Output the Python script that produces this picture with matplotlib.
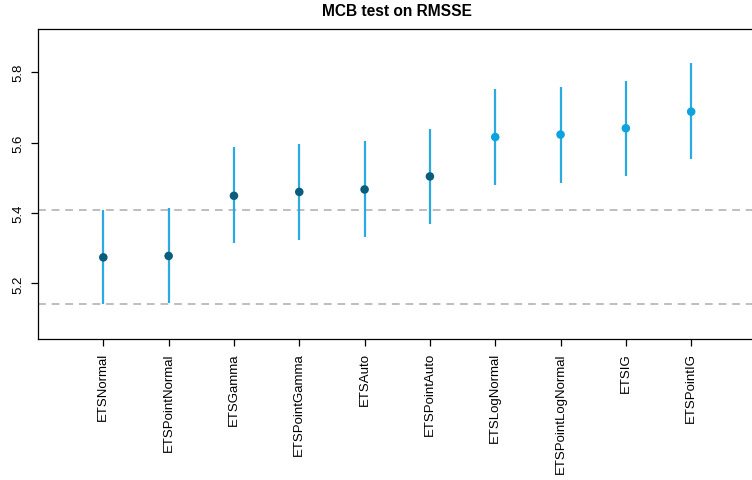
import matplotlib
matplotlib.use("Agg")
import matplotlib.pyplot as plt
import numpy as np

plt.rcParams['font.family'] = ['Liberation Sans', 'DejaVu Sans']

models = ["ETSNormal", "ETSPointNormal", "ETSGamma", "ETSPointGamma", "ETSAuto",
          "ETSPointAuto", "ETSLogNormal", "ETSPointLogNormal", "ETSIG", "ETSPointIG"]
means = [5.274, 5.278, 5.449, 5.460, 5.467, 5.504, 5.616, 5.623, 5.641, 5.688]
lower = [5.141, 5.143, 5.314, 5.324, 5.331, 5.369, 5.480, 5.486, 5.504, 5.553]
upper = [5.409, 5.413, 5.587, 5.596, 5.605, 5.639, 5.752, 5.758, 5.776, 5.825]

dark = "#0b5d7e"
light = "#0ea2de"
line_col = "#29abe2"

fig = plt.figure(figsize=(7.52, 4.81), dpi=100)
ax = fig.add_axes([38/752, 141/481, 718.5/752, 310/481])

x = np.arange(1, len(models) + 1)

# best model's interval as reference band
ax.axhline(lower[0], color="#bebebe", lw=1.4, ls=(0, (4, 3)), zorder=1)
ax.axhline(upper[0], color="#bebebe", lw=1.4, ls=(0, (4, 3)), zorder=1)

ax.vlines(x, lower, upper, color=line_col, lw=1.6, zorder=2)
cols = [dark if lo <= upper[0] else light for lo in lower]
ax.scatter(x, means, s=38, c=cols, zorder=3, linewidths=0)

ax.set_xlim(0, 11)
ax.set_ylim(5.042, 5.923)
ax.set_xticks(x)
ax.set_xticklabels(models, rotation=90, fontsize=9.5)
ax.set_yticks([5.2, 5.4, 5.6, 5.8])
ax.set_yticklabels(["5.2", "5.4", "5.6", "5.8"], rotation=90, va="center", fontsize=9.5)
ax.tick_params(axis="both", length=5, width=0.9)
ax.tick_params(axis="x", pad=4.5)
ax.tick_params(axis="y", pad=5)
for s in ax.spines.values():
    s.set_linewidth(0.9)

ax.set_title("MCB test on RMSSE", fontsize=11.2, fontweight="bold", pad=10)

plt.savefig("out.png", dpi=100)
